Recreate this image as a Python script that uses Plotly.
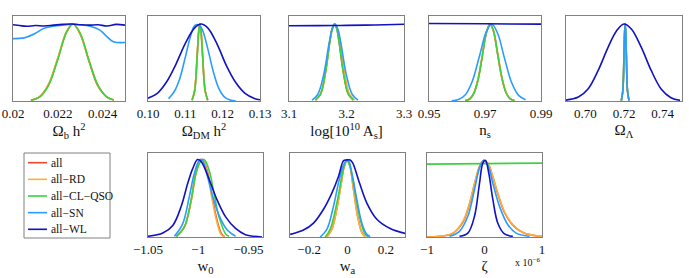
import plotly.graph_objects as go

W, H = 689, 278
FONT = "Liberation Serif, Times New Roman, DejaVu Serif, serif"

SERIES = ["all", "all−RD", "all−CL−QSO", "all−SN", "all−WL"]
COLORS = ["#ea4a2c", "#ffae3c", "#3dd23d", "#2b9cff", "#1212c2"]

# ---------------- Panel 1: Omega_b h^2 ----------------
obh2_x_gauss = [0.0208, 0.0212, 0.0216, 0.0220, 0.0224, 0.02268, 0.0230, 0.0234, 0.0238, 0.0242, 0.0245]
obh2_y_all = [0.010, 0.058, 0.22, 0.55, 0.90, 1.0, 0.87, 0.51, 0.19, 0.05, 0.013]
obh2_y_rd = [0.010, 0.060, 0.23, 0.56, 0.91, 1.0, 0.87, 0.52, 0.20, 0.05, 0.014]
obh2_y_cl = [0.009, 0.055, 0.21, 0.54, 0.90, 1.0, 0.88, 0.52, 0.20, 0.05, 0.013]
obh2_x_sn = [0.0200, 0.0205, 0.0210, 0.02135, 0.0218, 0.0224, 0.02269, 0.0230, 0.02344, 0.02388, 0.02418, 0.02448, 0.0250]
obh2_y_sn = [0.81, 0.82, 0.88, 0.94, 0.97, 0.99, 1.0, 0.99, 0.97, 0.92, 0.84, 0.77, 0.76]
obh2_x_wl = [0.0200, 0.0203, 0.0206, 0.0210, 0.0214, 0.0218, 0.0222, 0.0226, 0.0230, 0.0234, 0.0238, 0.0242, 0.0246, 0.0250]
obh2_y_wl = [0.99, 0.98, 0.97, 0.98, 0.975, 0.985, 0.995, 1.0, 0.99, 0.985, 0.99, 0.975, 0.995, 0.985]

# ---------------- Panel 2: Omega_DM h^2 ----------------
odm_x_narrow = [0.1118, 0.1125, 0.1132, 0.1136, 0.1139, 0.1142, 0.1146, 0.1153, 0.1160]
odm_y_all = [0.011, 0.135, 0.61, 0.91, 1.0, 0.91, 0.61, 0.135, 0.011]
odm_y_rd = [0.015, 0.15, 0.63, 0.92, 1.0, 0.90, 0.60, 0.13, 0.010]
odm_y_cl = [0.010, 0.13, 0.60, 0.91, 1.0, 0.91, 0.61, 0.135, 0.011]
odm_x_sn = [0.1055, 0.1070, 0.1085, 0.1100, 0.1115, 0.1125, 0.1135, 0.1145, 0.1160, 0.1175, 0.1190, 0.1205, 0.1220, 0.1235]
odm_y_sn = [0.03, 0.12, 0.29, 0.57, 0.86, 0.98, 0.99, 0.93, 0.68, 0.38, 0.16, 0.05, 0.013, 0.0]
odm_x_wl = [0.1000, 0.1025, 0.1050, 0.1075, 0.1100, 0.1125, 0.1142, 0.1160, 0.1185, 0.1210, 0.1235, 0.1260, 0.1285, 0.1300]
odm_y_wl = [0.036, 0.10, 0.25, 0.48, 0.75, 0.95, 1.0, 0.95, 0.74, 0.46, 0.24, 0.10, 0.034, 0.016]

# ---------------- Panel 3: log[10^10 A_s] ----------------
as_x_cl = [3.146, 3.155, 3.163, 3.171, 3.175, 3.179, 3.183, 3.187, 3.195, 3.203, 3.212]
as_y_all = [0.011, 0.093, 0.35, 0.77, 0.94, 1.0, 0.94, 0.77, 0.35, 0.093, 0.011]
as_x_rd = [3.146, 3.155, 3.163, 3.171, 3.176, 3.180, 3.184, 3.189, 3.197, 3.205, 3.214]
as_y_rd = [0.011, 0.093, 0.35, 0.77, 0.94, 1.0, 0.94, 0.77, 0.35, 0.093, 0.011]
as_y_cl = [0.011, 0.093, 0.35, 0.77, 0.94, 1.0, 0.94, 0.77, 0.35, 0.093, 0.011]
as_x_sn = [3.140, 3.150, 3.160, 3.170, 3.175, 3.180, 3.185, 3.190, 3.200, 3.210, 3.220]
as_y_sn = [0.012, 0.085, 0.33, 0.76, 0.93, 1.0, 0.93, 0.76, 0.33, 0.085, 0.012]
as_x_wl = [3.10, 3.15, 3.18, 3.20, 3.25, 3.30]
as_y_wl = [0.978, 0.979, 0.980, 0.982, 0.988, 0.996]

# ---------------- Panel 4: n_s ----------------
ns_x_cl = [0.9629, 0.9645, 0.9660, 0.9675, 0.9690, 0.9705, 0.9718, 0.9730, 0.9745, 0.9760, 0.9775, 0.9790, 0.9805]
ns_y_all = [0.004, 0.026, 0.10, 0.28, 0.58, 0.89, 1.0, 0.91, 0.61, 0.30, 0.11, 0.028, 0.006]
ns_y_rd = [0.004, 0.026, 0.10, 0.28, 0.58, 0.89, 1.0, 0.91, 0.62, 0.31, 0.12, 0.030, 0.007]
ns_y_cl = [0.004, 0.025, 0.10, 0.27, 0.57, 0.89, 1.0, 0.92, 0.62, 0.31, 0.11, 0.028, 0.006]
ns_x_sn = [0.9581, 0.9605, 0.9630, 0.9655, 0.9680, 0.9705, 0.9724, 0.9745, 0.9770, 0.9795, 0.9820, 0.9845]
ns_y_sn = [0.003, 0.018, 0.082, 0.26, 0.58, 0.90, 1.0, 0.88, 0.55, 0.24, 0.073, 0.016]
ns_x_wl = [0.95, 0.97, 0.99]
ns_y_wl = [1.006, 1.003, 0.998]

# ---------------- Panel 5: Omega_Lambda ----------------
ol_x_narrow = [0.7186, 0.7194, 0.7200, 0.7203, 0.7206, 0.7209, 0.7212, 0.7218, 0.7226]
ol_y_narrow = [0.004, 0.135, 0.61, 0.88, 1.0, 0.88, 0.61, 0.135, 0.004]
ol_x_wl = [0.6892, 0.6964, 0.7015, 0.7067, 0.7118, 0.7161, 0.7200, 0.7238, 0.7289, 0.7340, 0.7391, 0.7443, 0.7490]
ol_y_wl = [0.009, 0.052, 0.16, 0.40, 0.70, 0.91, 1.0, 0.935, 0.70, 0.40, 0.16, 0.043, 0.009]

# ---------------- Panel 6: w_0 ----------------
w0_x_rd = [-1.0220, -1.0138, -1.0072, -1.0023, -0.9984, -0.9957, -0.9908, -0.9859, -0.9819, -0.9776, -0.9743]
w0_y_rd = [0.005, 0.13, 0.45, 0.82, 0.98, 1.0, 0.82, 0.47, 0.22, 0.04, 0.005]
w0_x_all = [-1.0220, -1.0138, -1.0072, -1.0023, -0.9982, -0.9955, -0.9905, -0.9855, -0.9815, -0.9770, -0.9738]
w0_y_all = [0.005, 0.13, 0.46, 0.83, 0.98, 1.0, 0.83, 0.48, 0.23, 0.045, 0.005]
w0_x_cl = [-1.0220, -1.0138, -1.0072, -1.0023, -0.9974, -0.9941, -0.9891, -0.9842, -0.9793, -0.9727, -0.9694]
w0_y_cl = [0.005, 0.13, 0.47, 0.82, 0.98, 1.0, 0.86, 0.56, 0.26, 0.04, 0.01]
w0_x_sn = [-1.0237, -1.0155, -1.0089, -1.0039, -0.9990, -0.9964, -0.9924, -0.9859, -0.9793, -0.9711, -0.9628]
w0_y_sn = [0.01, 0.17, 0.52, 0.82, 0.99, 1.0, 0.86, 0.54, 0.28, 0.09, 0.01]
w0_x_wl = [-1.0500, -1.0352, -1.0253, -1.0171, -1.0105, -1.0056, -1.0007, -0.9974, -0.9941, -0.9875, -0.9809, -0.9727, -0.9628, -0.9530, -0.9365]
w0_y_wl = [0.009, 0.052, 0.15, 0.39, 0.69, 0.88, 1.0, 0.98, 0.905, 0.69, 0.47, 0.26, 0.11, 0.03, 0.0]

# ---------------- Panel 7: w_a ----------------
wa_x_rd = [-0.1078, -0.0817, -0.0557, -0.0348, -0.0174, -0.0035, 0.0104, 0.0313, 0.0522, 0.0748, 0.0922]
wa_y_rd = [0.0, 0.10, 0.36, 0.66, 0.91, 0.99, 0.94, 0.61, 0.27, 0.056, 0.004]
wa_y_all = [0.0, 0.10, 0.37, 0.67, 0.91, 0.99, 0.94, 0.62, 0.28, 0.06, 0.004]
wa_x_cl = [-0.1165, -0.0904, -0.0557, -0.0296, -0.0122, 0.0, 0.0139, 0.0400, 0.0661, 0.0922, 0.1096]
wa_y_cl = [0.0, 0.10, 0.44, 0.785, 0.96, 0.99, 0.91, 0.57, 0.23, 0.034, 0.004]
wa_x_sn = [-0.1426, -0.1078, -0.0730, -0.0470, -0.0243, -0.0070, 0.0052, 0.0226, 0.0487, 0.0748, 0.1009, 0.1183]
wa_y_sn = [0.0, 0.10, 0.40, 0.70, 0.91, 0.99, 0.99, 0.83, 0.485, 0.18, 0.034, 0.004]
wa_x_wl = [-0.299, -0.2296, -0.1774, -0.1252, -0.0817, -0.0470, -0.0209, -0.0070, 0.0139, 0.0278, 0.0574, 0.1009, 0.1530, 0.2226, 0.3009]
wa_y_wl = [0.034, 0.09, 0.18, 0.36, 0.57, 0.785, 0.99, 1.0, 1.0, 0.96, 0.74, 0.44, 0.23, 0.11, 0.047]

# ---------------- Panel 8: zeta (units of 1e-6) ----------------
z_x_rd = [-1.0, -0.725, -0.551, -0.377, -0.261, -0.174, -0.087, -0.017, 0.058, 0.145, 0.232, 0.348, 0.493, 0.667, 0.928, 1.0]
z_y_rd = [0.0, 0.013, 0.05, 0.20, 0.44, 0.70, 0.92, 1.0, 0.965, 0.79, 0.57, 0.33, 0.16, 0.06, 0.013, 0.009]
z_y_all = [0.0, 0.012, 0.048, 0.19, 0.43, 0.69, 0.92, 1.0, 0.96, 0.78, 0.56, 0.32, 0.155, 0.058, 0.012, 0.008]
z_x_cl = [-1.0, 0.0, 1.0]
z_y_cl = [0.952, 0.958, 0.965]
z_x_sn = [-0.609, -0.435, -0.290, -0.174, -0.087, -0.017, 0.058, 0.145, 0.261, 0.406, 0.551, 0.783]
z_y_sn = [0.009, 0.074, 0.27, 0.62, 0.90, 1.0, 0.94, 0.70, 0.40, 0.16, 0.05, 0.009]
z_x_wl = [-0.435, -0.290, -0.174, -0.087, -0.029, 0.017, 0.075, 0.145, 0.232, 0.348, 0.493]
z_y_wl = [0.009, 0.05, 0.27, 0.70, 0.965, 1.0, 0.83, 0.49, 0.18, 0.04, 0.009]

# ---------------- Axis labels / ticks ----------------
TITLES = ["Ω<sub>b</sub> h<sup>2</sup>", "Ω<sub>DM</sub> h<sup>2</sup>", "log[10<sup>10</sup> A<sub>s</sub>]",
          "n<sub>s</sub>", "Ω<sub>Λ</sub>", "w<sub>0</sub>", "w<sub>a</sub>", "ζ"]
XRANGES = [[0.02, 0.025], [0.10, 0.13], [3.1, 3.3], [0.95, 0.99], [0.69, 0.75],
           [-1.05, -0.9355], [-0.3, 0.3], [-1.0, 1.0]]
TICKVALS = [[0.02, 0.022, 0.024], [0.10, 0.11, 0.12, 0.13], [3.1, 3.2, 3.3], [0.95, 0.97, 0.99],
            [0.70, 0.72, 0.74], [-1.05, -1.0, -0.95], [-0.2, 0, 0.2], [-1, 0, 1]]
TICKTEXT = [["0.02", "0.022", "0.024"], ["0.10", "0.11", "0.12", "0.13"], ["3.1", "3.2", "3.3"],
            ["0.95", "0.97", "0.99"], ["0.70", "0.72", "0.74"], ["−1.05", "−1", "−0.95"],
            ["−0.2", "0", "0.2"], ["−1", "0", "1"]]
ZETA_SCALE = "x 10<sup>−6</sup>"

PANELS = [
    [(obh2_x_gauss, obh2_y_all), (obh2_x_gauss, obh2_y_rd), (obh2_x_gauss, obh2_y_cl), (obh2_x_sn, obh2_y_sn), (obh2_x_wl, obh2_y_wl)],
    [(odm_x_narrow, odm_y_all), (odm_x_narrow, odm_y_rd), (odm_x_narrow, odm_y_cl), (odm_x_sn, odm_y_sn), (odm_x_wl, odm_y_wl)],
    [(as_x_cl, as_y_all), (as_x_rd, as_y_rd), (as_x_cl, as_y_cl), (as_x_sn, as_y_sn), (as_x_wl, as_y_wl)],
    [(ns_x_cl, ns_y_all), (ns_x_cl, ns_y_rd), (ns_x_cl, ns_y_cl), (ns_x_sn, ns_y_sn), (ns_x_wl, ns_y_wl)],
    [(ol_x_narrow, ol_y_narrow), (ol_x_narrow, ol_y_narrow), (ol_x_narrow, ol_y_narrow), (ol_x_narrow, ol_y_narrow), (ol_x_wl, ol_y_wl)],
    [(w0_x_all, w0_y_all), (w0_x_rd, w0_y_rd), (w0_x_cl, w0_y_cl), (w0_x_sn, w0_y_sn), (w0_x_wl, w0_y_wl)],
    [(wa_x_rd, wa_y_all), (wa_x_rd, wa_y_rd), (wa_x_cl, wa_y_cl), (wa_x_sn, wa_y_sn), (wa_x_wl, wa_y_wl)],
    [(z_x_rd, z_y_all), (z_x_rd, z_y_rd), (z_x_cl, z_y_cl), (z_x_sn, z_y_sn), (z_x_wl, z_y_wl)],
]

# pixel boxes of the panels (left, right, top, bottom)
BOXES = [(13, 125, 16, 101), (148, 260, 16, 101), (289, 404, 16, 101), (429, 541, 16, 101), (566, 682, 16, 101),
         (148, 263, 153, 237), (290, 405, 153, 237), (427, 542, 153, 237)]
YTOP = [1.104, 1.104, 1.104, 1.104, 1.104, 1.085, 1.09, 1.097]

# legend box geometry in pixels
LEG_BOX = (24, 110, 153, 238)
LEG_ROW0, LEG_ROW_STEP = 162.7, 16.65
LEG_LINE_X = (28, 47)
LEG_TEXT_X = 49

fig = go.Figure()
for p, series in enumerate(PANELS):
    xa = "x" if p == 0 else f"x{p+1}"
    ya = "y" if p == 0 else f"y{p+1}"
    for s, (xs, ys) in enumerate(series):
        fig.add_trace(go.Scatter(
            x=xs, y=ys, xaxis=xa, yaxis=ya, mode="lines",
            line=dict(color=COLORS[s], width=1.6, shape="spline", smoothing=1.0),
            name=SERIES[s], legendgroup=SERIES[s], showlegend=False,
        ))

annotations = [dict(text=ZETA_SCALE, x=527 / W, y=1 - 262 / H, xref="paper", yref="paper",
                    xanchor="center", yanchor="middle",
                    showarrow=False, font=dict(family=FONT, size=10, color="#111"))]
shapes = [dict(type="rect", xref="paper", yref="paper",
               x0=LEG_BOX[0] / W, x1=LEG_BOX[1] / W, y0=1 - LEG_BOX[3] / H, y1=1 - LEG_BOX[2] / H,
               line=dict(color="#808080", width=1), fillcolor="white", layer="below")]
for s, name in enumerate(SERIES):
    yy = 1 - (LEG_ROW0 + s * LEG_ROW_STEP) / H
    shapes.append(dict(type="line", xref="paper", yref="paper", x0=LEG_LINE_X[0] / W, x1=LEG_LINE_X[1] / W,
                       y0=yy, y1=yy, line=dict(color=COLORS[s], width=1.6)))
    annotations.append(dict(text=name, x=LEG_TEXT_X / W, y=yy, xref="paper", yref="paper",
                            xanchor="left", yanchor="middle", showarrow=False,
                            font=dict(family=FONT, size=11.5, color="#111")))

layout = dict(
    width=W, height=H, margin=dict(l=0, r=0, t=0, b=0, autoexpand=False),
    paper_bgcolor="white", plot_bgcolor="white",
    font=dict(family=FONT, size=13, color="#111"),
    showlegend=False,
    annotations=annotations, shapes=shapes,
)
for p in range(len(PANELS)):
    l, r, t, b = BOXES[p]
    kx = "xaxis" if p == 0 else f"xaxis{p+1}"
    ky = "yaxis" if p == 0 else f"yaxis{p+1}"
    ya = "y" if p == 0 else f"y{p+1}"
    xa = "x" if p == 0 else f"x{p+1}"
    layout[kx] = dict(domain=[l / W, r / W], anchor=ya, range=XRANGES[p], automargin=False,
                      tickvals=TICKVALS[p], ticktext=TICKTEXT[p], ticks="",
                      ticklabelstandoff=0,
                      showline=True, linecolor="#808080", linewidth=1, mirror=True,
                      showgrid=False, zeroline=False,
                      tickfont=dict(family=FONT, size=13, color="#111"),
                      title=dict(text=TITLES[p], font=dict(family=FONT, size=15, color="#111"), standoff=4))
    layout[ky] = dict(domain=[1 - b / H, 1 - t / H], anchor=xa, range=[0, YTOP[p]], automargin=False,
                      showticklabels=False, ticks="", showgrid=False, zeroline=False,
                      showline=True, linecolor="#808080", linewidth=1, mirror=True)
fig.update_layout(**layout)
fig.write_html("out.html", config={"displayModeBar": False},
               post_script="document.body.style.margin='0';document.body.style.padding='0';")
